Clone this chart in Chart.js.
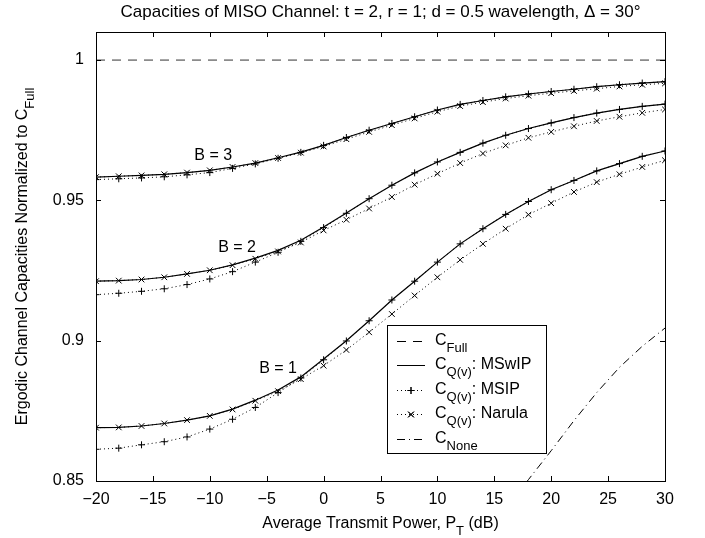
<!DOCTYPE html>
<html>
<head>
<meta charset="utf-8">
<script src="https://cdn.jsdelivr.net/npm/chart.js@4.4.1/dist/chart.umd.min.js"></script>
<style>
  html, body { margin: 0; padding: 0; background: #fff; }
</style>
</head>
<body>
<canvas id="c" width="705" height="538"></canvas>
<script>
// --- Data ---

// Average transmit power P_T (dB), markers every 2 dB
const powerDb = [-20, -18, -16, -14, -12, -10, -8, -6, -4, -2, 0, 2, 4, 6, 8, 10, 12, 14, 16, 18, 20, 22, 24, 26, 28, 30];

// B = 3
const b3MSwIP  = [0.9583, 0.9586, 0.9589, 0.9593, 0.9599, 0.9607, 0.9619, 0.9633, 0.9652, 0.9672, 0.9696, 0.9724, 0.9750, 0.9774, 0.9798, 0.9822, 0.9842, 0.9856, 0.9869, 0.9879, 0.9888, 0.9896, 0.9905, 0.9912, 0.9918, 0.9923];
const b3MSIP   = [0.9574, 0.9577, 0.9580, 0.9584, 0.9591, 0.9599, 0.9614, 0.9630, 0.9650, 0.9671, 0.9696, 0.9724, 0.9750, 0.9774, 0.9798, 0.9822, 0.9842, 0.9856, 0.9869, 0.9879, 0.9888, 0.9896, 0.9905, 0.9912, 0.9918, 0.9923];
const b3Narula = [0.9583, 0.9586, 0.9589, 0.9593, 0.9599, 0.9607, 0.9619, 0.9633, 0.9651, 0.9670, 0.9692, 0.9718, 0.9744, 0.9768, 0.9792, 0.9816, 0.9836, 0.9850, 0.9863, 0.9873, 0.9882, 0.9890, 0.9898, 0.9906, 0.9912, 0.9917];

// B = 2
const b2MSwIP  = [0.9212, 0.9214, 0.9218, 0.9226, 0.9238, 0.9251, 0.9270, 0.9294, 0.9322, 0.9358, 0.9405, 0.9455, 0.9506, 0.9554, 0.9598, 0.9637, 0.9671, 0.9704, 0.9732, 0.9756, 0.9776, 0.9795, 0.9811, 0.9824, 0.9835, 0.9843];
const b2MSIP   = [0.9164, 0.9169, 0.9176, 0.9185, 0.9200, 0.9220, 0.9246, 0.9280, 0.9315, 0.9354, 0.9403, 0.9454, 0.9506, 0.9554, 0.9598, 0.9637, 0.9671, 0.9704, 0.9732, 0.9756, 0.9776, 0.9795, 0.9811, 0.9824, 0.9835, 0.9843];
const b2Narula = [0.9212, 0.9214, 0.9218, 0.9226, 0.9238, 0.9251, 0.9269, 0.9292, 0.9318, 0.9350, 0.9393, 0.9431, 0.9471, 0.9512, 0.9556, 0.9595, 0.9633, 0.9667, 0.9696, 0.9723, 0.9744, 0.9764, 0.9783, 0.9798, 0.9812, 0.9824];

// B = 1
const b1MSwIP  = [0.8690, 0.8691, 0.8696, 0.8705, 0.8717, 0.8732, 0.8756, 0.8788, 0.8824, 0.8871, 0.8935, 0.9000, 0.9071, 0.9145, 0.9212, 0.9280, 0.9345, 0.9399, 0.9450, 0.9496, 0.9538, 0.9571, 0.9605, 0.9631, 0.9657, 0.9676];
const b1MSIP   = [0.8613, 0.8617, 0.8629, 0.8640, 0.8657, 0.8685, 0.8720, 0.8762, 0.8815, 0.8867, 0.8932, 0.8999, 0.9071, 0.9145, 0.9212, 0.9280, 0.9345, 0.9399, 0.9450, 0.9496, 0.9538, 0.9571, 0.9605, 0.9631, 0.9657, 0.9676];
const b1Narula = [0.8690, 0.8691, 0.8696, 0.8705, 0.8717, 0.8732, 0.8755, 0.8786, 0.8820, 0.8863, 0.8911, 0.8967, 0.9030, 0.9095, 0.9161, 0.9226, 0.9288, 0.9345, 0.9399, 0.9449, 0.9490, 0.9530, 0.9565, 0.9593, 0.9619, 0.9643];

// C_Full (normalised) and C_None (only the visible tail)
const fullX = [-20, 30];
const fullY = [1, 1];
const noneX = [16, 18, 20, 22, 24, 26, 28, 30];
const noneY = [0.8400, 0.8505, 0.8608, 0.8715, 0.8815, 0.8905, 0.8980, 0.9045];

// Axis ticks
const xTicks = [-20, -15, -10, -5, 0, 5, 10, 15, 20, 25, 30];
const yTicks = [0.85, 0.9, 0.95, 1];

// Curve labels, anchored in data coordinates
const curveLabels = [
  { text: 'B = 3', x: -9.7, y: 0.9660 },
  { text: 'B = 2', x: -7.6, y: 0.9332 },
  { text: 'B = 1', x: -4.0, y: 0.8900 }
];

// --- Helpers ---

const FONT = '"Liberation Sans", Arial, Helvetica, sans-serif';

function pts(xs, ys) {
  return xs.map((x, i) => ({ x: x, y: ys[i] }));
}

// draws text with subscript parts: parts = [[text, isSub], ...]
function richText(ctx, parts, x, y, align, size) {
  size = size || 16;
  const subSize = Math.round(size * 0.81);
  let w = 0;
  parts.forEach(p => {
    ctx.font = (p[1] ? subSize : size) + 'px ' + FONT;
    w += ctx.measureText(p[0]).width;
  });
  let cx = align === 'center' ? x - w / 2 : x;
  ctx.textAlign = 'left';
  ctx.textBaseline = 'alphabetic';
  parts.forEach(p => {
    ctx.font = (p[1] ? subSize : size) + 'px ' + FONT;
    ctx.fillText(p[0], cx, y + (p[1] ? 7 : 0));
    cx += ctx.measureText(p[0]).width;
  });
}

const solidStyle = { borderColor: '#000', borderWidth: 1.2, pointRadius: 0, borderDash: [] };
const msipStyle = { borderColor: '#000', borderWidth: 1, borderDash: [1, 3], pointStyle: 'cross', pointRadius: 3.5, pointBorderWidth: 1, pointBorderColor: '#000', pointBackgroundColor: '#000' };
const narulaStyle = { borderColor: '#000', borderWidth: 1, borderDash: [1, 3], pointStyle: 'crossRot', pointRadius: 4, pointBorderWidth: 1, pointBorderColor: '#000', pointBackgroundColor: '#000' };

// --- Plugins: frame with inward ticks, title, axis titles, legend, curve labels ---

const decorPlugin = {
  id: 'decor',
  afterDatasetsDraw(chart) {
    const ctx = chart.ctx;
    const { left, right, top, bottom } = chart.chartArea;
    const xs = chart.scales.x, ys = chart.scales.y;
    ctx.save();
    ctx.strokeStyle = '#000';
    ctx.lineWidth = 1;
    ctx.setLineDash([]);
    ctx.strokeRect(left + 0.5, top + 0.5, right - left, bottom - top);

    ctx.beginPath();
    xTicks.forEach(v => {
      const px = Math.round(xs.getPixelForValue(v)) + 0.5;
      ctx.moveTo(px, bottom); ctx.lineTo(px, bottom - 5);
      ctx.moveTo(px, top); ctx.lineTo(px, top + 5);
    });
    yTicks.forEach(v => {
      const py = Math.round(ys.getPixelForValue(v)) + 0.5;
      ctx.moveTo(left, py); ctx.lineTo(left + 5, py);
      ctx.moveTo(right, py); ctx.lineTo(right - 5, py);
    });
    ctx.stroke();

    ctx.fillStyle = '#000';
    // title
    richText(ctx, [['Capacities of MISO Channel: t = 2, r = 1; d = 0.5 wavelength, \u0394 = 30\u00b0', false]], (left + right) / 2, 17, 'center', 17);
    // x axis title
    richText(ctx, [['Average Transmit Power, P', false], ['T', true], [' (dB)', false]], (left + right) / 2, 528, 'center', 16);
    // y axis title
    ctx.save();
    ctx.translate(27, (top + bottom) / 2);
    ctx.rotate(-Math.PI / 2);
    richText(ctx, [['Ergodic Channel Capacities Normalized to C', false], ['Full', true]], 0, 0, 'center', 16);
    ctx.restore();

    // curve labels
    curveLabels.forEach(l => {
      ctx.font = '16px ' + FONT;
      ctx.textAlign = 'center';
      ctx.textBaseline = 'middle';
      ctx.fillText(l.text, xs.getPixelForValue(l.x), ys.getPixelForValue(l.y));
    });

    // legend
    const lx = 387, ly = 325, lw = 159, lh = 128;
    ctx.fillStyle = '#fff';
    ctx.fillRect(lx, ly, lw, lh);
    ctx.strokeRect(lx + 0.5, ly + 0.5, lw, lh);
    const rows = [
      { dash: [9, 7], marker: null, text: [['C', false], ['Full', true]] },
      { dash: [], marker: null, text: [['C', false], ['Q(v)', true], [': MSwIP', false]] },
      { dash: [1, 3], marker: 'cross', text: [['C', false], ['Q(v)', true], [': MSIP', false]] },
      { dash: [1, 3], marker: 'crossRot', text: [['C', false], ['Q(v)', true], [': Narula', false]] },
      { dash: [8, 4, 1, 4], marker: null, text: [['C', false], ['None', true]] }
    ];
    rows.forEach((r, i) => {
      const y = ly + 15.5 + i * 24.5;
      const yy = Math.round(y) + 0.5;
      ctx.strokeStyle = '#000';
      ctx.lineWidth = 1;
      ctx.setLineDash(r.dash);
      ctx.beginPath();
      ctx.moveTo(397, yy); ctx.lineTo(425, yy);
      ctx.stroke();
      ctx.setLineDash([]);
      if (r.marker) {
        Chart.helpers.drawPoint(ctx, { pointStyle: r.marker, radius: r.marker === 'cross' ? 3.5 : 4, borderWidth: 1 }, 411, yy);
        ctx.stroke();
      }
      ctx.fillStyle = '#000';
      richText(ctx, r.text, 435, y + 4, 'left', 16);
    });
    ctx.restore();
  }
};

// --- Chart ---

new Chart(document.getElementById('c').getContext('2d'), {
  type: 'line',
  data: {
    datasets: [
      Object.assign({ label: 'C_Full', data: pts(fullX, fullY) }, solidStyle, { borderWidth: 1, borderColor: '#333', borderDash: [9, 7] }),
      Object.assign({ label: 'B3 MSwIP', data: pts(powerDb, b3MSwIP) }, solidStyle),
      Object.assign({ label: 'B3 MSIP', data: pts(powerDb, b3MSIP) }, msipStyle),
      Object.assign({ label: 'B3 Narula', data: pts(powerDb, b3Narula) }, narulaStyle),
      Object.assign({ label: 'B2 MSwIP', data: pts(powerDb, b2MSwIP) }, solidStyle),
      Object.assign({ label: 'B2 MSIP', data: pts(powerDb, b2MSIP) }, msipStyle),
      Object.assign({ label: 'B2 Narula', data: pts(powerDb, b2Narula) }, narulaStyle),
      Object.assign({ label: 'B1 MSwIP', data: pts(powerDb, b1MSwIP) }, solidStyle),
      Object.assign({ label: 'B1 MSIP', data: pts(powerDb, b1MSIP) }, msipStyle),
      Object.assign({ label: 'B1 Narula', data: pts(powerDb, b1Narula) }, narulaStyle),
      Object.assign({ label: 'C_None', data: pts(noneX, noneY) }, solidStyle, { borderWidth: 1, borderDash: [8, 4, 1, 4] })
    ]
  },
  options: {
    responsive: false,
    animation: false,
    events: [],
    layout: { padding: { left: 0, right: 40, top: 32, bottom: 0 } },
    elements: { line: { tension: 0, fill: false } },
    plugins: { legend: { display: false }, tooltip: { enabled: false } },
    scales: {
      x: {
        type: 'linear',
        min: -20,
        max: 30,
        grid: { display: false, drawTicks: false },
        border: { display: false },
        afterBuildTicks: s => { s.ticks = xTicks.map(v => ({ value: v })); },
        afterFit: s => { s.height = 57; },
        ticks: {
          color: '#000',
          padding: 9,
          maxRotation: 0,
          autoSkip: false,
          font: { family: FONT, size: 16 },
          callback: v => String(v).replace('-', '\u2212')
        }
      },
      y: {
        type: 'linear',
        min: 0.85,
        max: 1.01,
        grid: { display: false, drawTicks: false },
        border: { display: false },
        afterBuildTicks: s => { s.ticks = yTicks.map(v => ({ value: v })); },
        afterFit: s => { s.width = 96; },
        ticks: {
          color: '#000',
          padding: 12,
          autoSkip: false,
          font: { family: FONT, size: 16 },
          callback: v => String(+v.toFixed(2))
        }
      }
    }
  },
  plugins: [decorPlugin]
});
</script>
</body>
</html>
